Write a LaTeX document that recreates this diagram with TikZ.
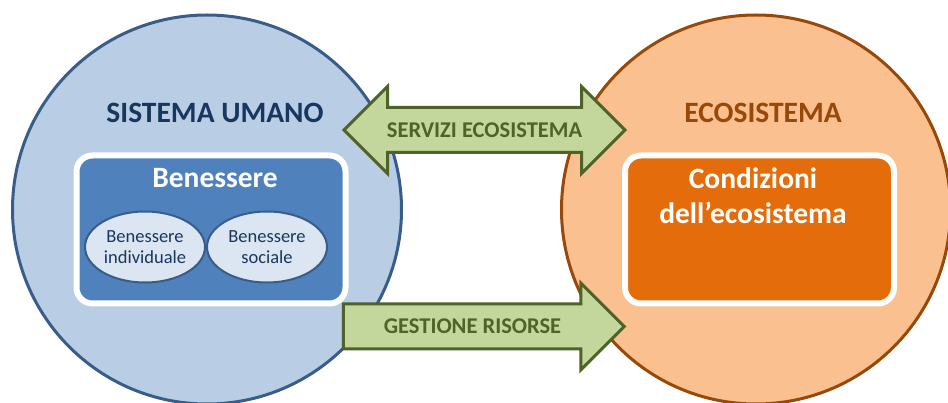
\documentclass[tikz,border=0pt]{standalone}
\usepackage{fontspec}
\setmainfont{Carlito}
\usetikzlibrary{shapes.geometric,shapes.arrows}

\definecolor{umanofill}{HTML}{B9CDE5}
\definecolor{umanobordo}{HTML}{385D8A}
\definecolor{umanotesto}{HTML}{17375E}
\definecolor{ecofill}{HTML}{FAC090}
\definecolor{ecobordo}{HTML}{984807}
\definecolor{benfill}{HTML}{4F81BD}
\definecolor{condfill}{HTML}{E46C0A}
\definecolor{bollafill}{HTML}{DCE6F2}
\definecolor{frecciafill}{HTML}{C3D69B}
\definecolor{frecciabordo}{HTML}{4F6228}

\tikzset{
  sistema/.style={circle, line width=3pt, minimum size=389pt, inner sep=0pt},
  riquadro/.style={rectangle, rounded corners=16pt, draw=white, line width=6pt,
    minimum width=269pt, minimum height=148pt},
  bolla/.style={ellipse, draw=umanobordo, line width=2pt, fill=bollafill,
    minimum width=120pt, minimum height=71pt, inner sep=0pt, align=center,
    text=umanotesto, font=\fontsize{18.5}{21}\selectfont},
  freccia/.style={draw=frecciabordo, fill=frecciafill, line width=3pt,
    text=frecciabordo, font=\bfseries\fontsize{22.5}{24}\selectfont,
    text height=15pt, text depth=0pt, inner ysep=13.5pt, minimum height=281pt},
  titolo/.style={font=\bfseries\fontsize{29.5}{35}\selectfont}
}

\begin{document}
\begin{tikzpicture}[x=1pt, y=-1pt]
\useasboundingbox (0,0) rectangle (948,403);

\node [sistema, fill=umanofill, draw=umanobordo] (umano) at (207,209.5) {};
\node [sistema, fill=ecofill, draw=ecobordo] (eco) at (756,209.5) {};

\node [titolo, text=umanotesto] (umanotitolo) at (215,113) {SISTEMA UMANO};
\node [titolo, text=ecobordo] (ecotitolo) at (763,113) {ECOSISTEMA};

\node [riquadro, fill=benfill] (benbox) at (211,229.5) {};
\node [titolo, text=white] (bentitolo) at (215,178) {Benessere};
\node [bolla] (individuale) at (145,247) {Benessere\\individuale};
\node [bolla] (sociale) at (267,247) {Benessere\\sociale};

\node [riquadro, fill=condfill] (condbox) at (759.5,229.5) {};
\node [titolo, text=white, align=center] (condtitolo) at (753,195.5) {Condizioni\\dell’ecosistema};

\node [freccia, double arrow, double arrow head extend=21pt] (servizi) at (484.5,130) {SERVIZI ECOSISTEMA};
\node [freccia, single arrow, single arrow head extend=21pt] (gestione) at (472.5,326.5) {GESTIONE RISORSE};

\end{tikzpicture}
\end{document}
